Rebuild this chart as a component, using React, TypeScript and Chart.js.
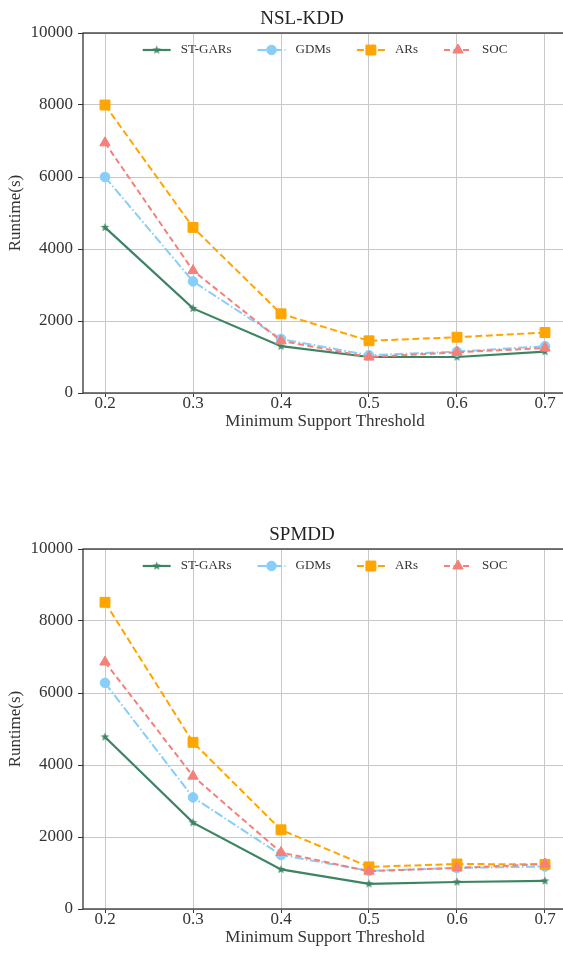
import React, { useEffect, useRef } from 'react';
import { Chart, registerables } from 'chart.js';

Chart.register(...registerables);

// ---- data ----
const thresholds = [0.2, 0.3, 0.4, 0.5, 0.6, 0.7];
const xTickValues = [0.2, 0.3, 0.4, 0.5, 0.6, 0.7];
const yTickValues = [0, 2000, 4000, 6000, 8000, 10000];
const seriesNames = ['ST-GARs', 'GDMs', 'ARs', 'SOC'];

const nslStGars = [4600, 2350, 1300, 1000, 1000, 1150];
const nslGdms = [6000, 3100, 1500, 1050, 1150, 1300];
const nslArs = [8000, 4600, 2200, 1450, 1550, 1680];
const nslSoc = [6950, 3400, 1450, 1000, 1130, 1250];

const spmStGars = [4780, 2400, 1100, 700, 750, 780];
const spmGdms = [6280, 3100, 1500, 1060, 1140, 1180];
const spmArs = [8520, 4630, 2200, 1170, 1250, 1240];
const spmSoc = [6860, 3690, 1570, 1050, 1140, 1250];

const FONT = '"Liberation Serif", "Times New Roman", serif';
const TEXT = '#333333';

const seriesStyles = [
  { color: '#3d8463', dash: [] as number[], marker: 'star', radius: 4.5, width: 2.2 },
  { color: '#87cefa', dash: [9, 2.5, 1.5, 2.5], marker: 'circle', radius: 4.8, width: 2 },
  { color: '#ffa500', dash: [7, 3.5], marker: 'rect', radius: 7, width: 2 },
  { color: '#f4807a', dash: [6, 3.5], marker: 'triangle', radius: 6, width: 2 },
];

function makeStar(color: string, R: number): HTMLCanvasElement {
  const s = Math.ceil(R * 2 + 2);
  const c = document.createElement('canvas');
  c.width = s;
  c.height = s;
  const g = c.getContext('2d')!;
  g.fillStyle = color;
  g.beginPath();
  for (let i = 0; i < 10; i++) {
    const r = i % 2 === 0 ? R : R * 0.42;
    const a = -Math.PI / 2 + (i * Math.PI) / 5;
    g.lineTo(s / 2 + r * Math.cos(a), s / 2 + r * Math.sin(a));
  }
  g.closePath();
  g.fill();
  return c;
}

function drawMarker(ctx: CanvasRenderingContext2D, style: any, r: number, color: string, x: number, y: number) {
  ctx.save();
  ctx.fillStyle = color;
  ctx.strokeStyle = color;
  ctx.lineWidth = 1;
  ctx.setLineDash([]);
  if (style instanceof HTMLCanvasElement) {
    ctx.drawImage(style, x - style.width / 2, y - style.height / 2);
  } else if (style === 'circle') {
    ctx.beginPath();
    ctx.arc(x, y, r, 0, Math.PI * 2);
    ctx.fill();
    ctx.stroke();
  } else if (style === 'rect') {
    const h = Math.SQRT1_2 * r;
    ctx.beginPath();
    ctx.rect(x - h, y - h, 2 * h, 2 * h);
    ctx.fill();
    ctx.stroke();
  } else if (style === 'triangle') {
    ctx.beginPath();
    let a = 0;
    ctx.moveTo(x + Math.sin(a) * r, y - Math.cos(a) * r);
    a += (2 * Math.PI) / 3;
    ctx.lineTo(x + Math.sin(a) * r, y - Math.cos(a) * r);
    a += (2 * Math.PI) / 3;
    ctx.lineTo(x + Math.sin(a) * r, y - Math.cos(a) * r);
    ctx.closePath();
    ctx.fill();
    ctx.stroke();
  }
  ctx.restore();
}

const framePlugin = {
  id: 'frame',
  afterDatasetsDraw(chart: any) {
    const { ctx, chartArea: a } = chart;
    ctx.save();
    ctx.strokeStyle = '#333333';
    ctx.lineWidth = 1.3;
    ctx.strokeRect(a.left, a.top, a.right - a.left, a.bottom - a.top);
    ctx.restore();
  },
};

const legendPlugin = {
  id: 'innerLegend',
  afterDraw(chart: any) {
    const { ctx, chartArea: a } = chart;
    ctx.save();
    ctx.font = `13px ${FONT}`;
    const lineLen = 28;
    const textGap = 10;
    const colGap = 26;
    const items = chart.data.datasets.map((ds: any) => ({ ds, w: ctx.measureText(ds.label).width }));
    const total =
      items.reduce((s: number, it: any) => s + lineLen + textGap + it.w, 0) + colGap * (items.length - 1);
    let x = (a.left + a.right) / 2 - total / 2;
    const y = a.top + 17;
    items.forEach(({ ds, w }: any) => {
      ctx.strokeStyle = ds.borderColor;
      ctx.lineWidth = ds.borderWidth;
      ctx.setLineDash(ds.borderDash || []);
      ctx.beginPath();
      ctx.moveTo(x, y);
      ctx.lineTo(x + lineLen, y);
      ctx.stroke();
      ctx.setLineDash([]);
      drawMarker(ctx, ds.pointStyle, ds.pointRadius, ds.borderColor, x + lineLen / 2, y);
      ctx.fillStyle = TEXT;
      ctx.textAlign = 'left';
      ctx.textBaseline = 'middle';
      ctx.fillText(ds.label, x + lineLen + textGap, y);
      x += lineLen + textGap + w + colGap;
    });
    ctx.restore();
  },
};

const titlePlugin = {
  id: 'plotTitle',
  afterDraw(chart: any, _args: any, opts: any) {
    const { ctx, chartArea: a } = chart;
    ctx.save();
    ctx.font = `19px ${FONT}`;
    ctx.fillStyle = '#222222';
    ctx.textAlign = 'center';
    ctx.textBaseline = 'middle';
    ctx.fillText(opts.text, chart.width / 2, a.top - 14);
    ctx.restore();
  },
};

const CW = 604;
const CH = 440;

function RuntimeChart({ title, values, top }: { title: string; values: number[][]; top: number }) {
  const ref = useRef<HTMLCanvasElement>(null);
  useEffect(() => {
    if (!ref.current) return;
    const star = makeStar(seriesStyles[0].color, seriesStyles[0].radius);
    const datasets = seriesNames.map((name, i) => {
      const st = seriesStyles[i];
      return {
        label: name,
        data: thresholds.map((x, j) => ({ x, y: values[i][j] })),
        borderColor: st.color,
        backgroundColor: st.color,
        borderWidth: st.width,
        borderDash: st.dash,
        pointStyle: st.marker === 'star' ? star : st.marker,
        pointRadius: st.radius,
        pointBackgroundColor: st.color,
        pointBorderColor: st.color,
        pointBorderWidth: 1,
        tension: 0,
        fill: false,
        order: seriesNames.length - 1 - i,
      };
    });
    const tickFont = { family: FONT, size: 17, lineHeight: 1 };
    const chart = new Chart(ref.current, {
      type: 'line',
      data: { datasets } as any,
      plugins: [framePlugin, legendPlugin, titlePlugin],
      options: {
        animation: false,
        responsive: false,
        devicePixelRatio: 1,
        layout: { padding: { top: 33, right: CW - 567, bottom: 0, left: 0 } },
        plugins: {
          legend: { display: false },
          tooltip: { enabled: false },
          plotTitle: { text: title },
        } as any,
        scales: {
          x: {
            type: 'linear',
            min: 0.175,
            max: 0.725,
            afterBuildTicks: (s: any) => {
              s.ticks = xTickValues.map((v) => ({ value: v }));
            },
            afterFit: (s: any) => {
              s.height = CH - 393;
            },
            ticks: {
              font: tickFont,
              color: TEXT,
              padding: -2,
              autoSkip: false,
              maxRotation: 0,
              callback: (v: any) => Number(v).toFixed(1),
            },
            grid: { color: '#c8c8c8', lineWidth: 1, tickLength: 4, tickColor: '#333333' },
            border: { display: false },
            title: {
              display: true,
              text: 'Minimum Support Threshold',
              font: { family: FONT, size: 17 },
              color: TEXT,
              padding: { top: 0, bottom: 8.5 },
            },
          },
          y: {
            type: 'linear',
            min: 0,
            max: 10000,
            afterBuildTicks: (s: any) => {
              s.ticks = yTickValues.map((v) => ({ value: v }));
            },
            afterFit: (s: any) => {
              s.width = 83;
            },
            ticks: {
              font: tickFont,
              color: TEXT,
              padding: 5,
              callback: (v: any) => String(v),
            },
            grid: { color: '#c8c8c8', lineWidth: 1, tickLength: 5, tickColor: '#333333' },
            border: { display: false },
            title: {
              display: true,
              text: 'Runtime(s)',
              font: { family: FONT, size: 17 },
              color: TEXT,
              padding: { top: 5, bottom: 0 },
            },
          },
        },
      } as any,
    });
    return () => chart.destroy();
  }, [title, values]);
  return (
    <div style={{ position: 'absolute', left: 0, top, width: CW, height: CH }}>
      <canvas ref={ref} width={CW} height={CH} style={{ width: CW, height: CH, display: 'block' }} />
    </div>
  );
}

const nslValues = [nslStGars, nslGdms, nslArs, nslSoc];
const spmValues = [spmStGars, spmGdms, spmArs, spmSoc];

export default function App() {
  return (
    <div
      style={{
        position: 'absolute',
        left: 0,
        top: 0,
        width: 563,
        height: 955,
        overflow: 'hidden',
        background: '#ffffff',
      }}
    >
      <RuntimeChart title="NSL-KDD" values={nslValues} top={0} />
      <RuntimeChart title="SPMDD" values={spmValues} top={516} />
    </div>
  );
}
